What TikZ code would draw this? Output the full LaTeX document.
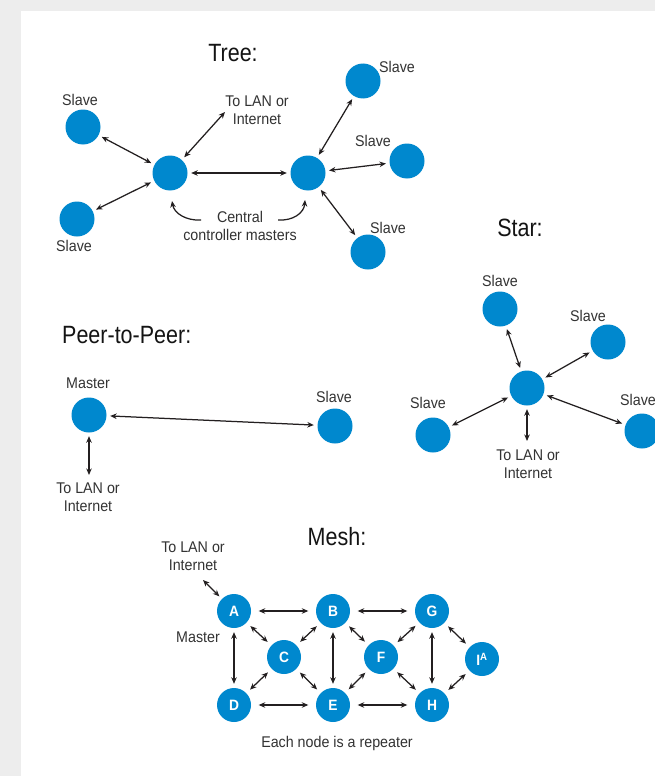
\documentclass[tikz,border=0pt]{standalone}
\usepackage{fontspec}
\setmainfont{Liberation Sans}[FakeStretch=0.86]
\newfontfamily\lblfont{Liberation Sans}[FakeStretch=0.92]
\usetikzlibrary{arrows.meta}
\definecolor{nodeblue}{HTML}{0088CE}
\definecolor{linegray}{HTML}{231F20}
\definecolor{txtgray}{HTML}{333333}
\definecolor{bggray}{HTML}{EDEDED}
\begin{document}
\begin{tikzpicture}[x=1pt,y=-1pt,
  dev/.style={circle,fill=nodeblue,minimum size=35pt,inner sep=0pt},
  mdev/.style={circle,fill=nodeblue,minimum size=34pt,inner sep=0pt,text=white,font=\lblfont\bfseries\fontsize{15}{15}\selectfont},
  lbl/.style={text=txtgray,font=\lblfont\fontsize{15.5}{17.5}\selectfont,align=center,inner sep=0pt},
  ttl/.style={text=black!92,font=\fontsize{25}{28}\selectfont,inner sep=0pt},
  link/.style={draw=linegray,line width=1.25pt,{Stealth[length=6.5pt,width=5.5pt]}-{Stealth[length=6.5pt,width=5.5pt]},shorten >=3.5pt,shorten <=3.5pt},
  mlinkh/.style={link,shorten >=7.5pt,shorten <=7.5pt},
  mlinkd/.style={link,shorten >=5pt,shorten <=5pt},
  mlinkv/.style={link,shorten >=4pt,shorten <=4pt},
  carrow/.style={draw=linegray,line width=1.25pt,-{Stealth[length=6.5pt,width=5.5pt]}},
]
\useasboundingbox (0,0) rectangle (655,776);
\fill[bggray] (0,0) rectangle (655,776);
\fill[white] (21,11) rectangle (660,780);
\clip (0,0) rectangle (655,776);

% ---------- Tree ----------
\node[ttl] (ttree) at (233,53) {Tree:};
\node[dev] (ts1) at (83,127) {};
\node[lbl] (ts1l) at (80,100) {Slave};
\node[dev] (ts2) at (77,219) {};
\node[lbl] (ts2l) at (74,246) {Slave};
\node[dev] (tm1) at (170,173) {};
\node[dev] (tm2) at (308,173) {};
\node[lbl] (tlan) at (257,110) {To LAN or\\Internet};
\coordinate (tlanp) at (225,112);
\node[dev] (ts3) at (363,81) {};
\node[lbl] (ts3l) at (397,67) {Slave};
\node[dev] (ts4) at (407,161) {};
\node[lbl] (ts4l) at (373,141) {Slave};
\node[dev] (ts5) at (368,252) {};
\node[lbl] (ts5l) at (388,228) {Slave};
\node[lbl] (cc) at (240,226) {Central\\controller masters};

\draw[link] (ts1) -- (tm1);
\draw[link] (ts2) -- (tm1);
\draw[link,shorten >=0pt] (tm1) -- (tlanp);
\draw[link] (tm1) -- (tm2);
\draw[link] (tm2) -- (ts3);
\draw[link] (tm2) -- (ts4);
\draw[link] (tm2) -- (ts5);
\coordinate (cl0) at (201,220);
\coordinate (cl1) at (172,201);
\coordinate (cr0) at (278,220);
\coordinate (cr1) at (305,200);
\draw[carrow] (cl0) .. controls (186,221) and (174,213) .. (cl1);
\draw[carrow] (cr0) .. controls (293,221) and (304,213) .. (cr1);

% ---------- Star ----------
\node[ttl] (tstar) at (520,228) {Star:};
\node[dev] (sc) at (527,388) {};
\node[dev] (ss1) at (500,309) {};
\node[lbl] (ss1l) at (500,281) {Slave};
\node[dev] (ss2) at (608,342) {};
\node[lbl] (ss2l) at (588,316) {Slave};
\node[dev] (ss3) at (433,435) {};
\node[lbl] (ss3l) at (428,403) {Slave};
\node[dev] (ss4) at (642,431) {};
\node[lbl] (ss4l) at (638,400) {Slave};
\node[lbl] (slan) at (528,464) {To LAN or\\Internet};
\coordinate (slanp) at (527,441);
\draw[link] (sc) -- (ss1);
\draw[link] (sc) -- (ss2);
\draw[link] (sc) -- (ss3);
\draw[link] (sc) -- (ss4);
\draw[link,shorten >=0pt] (sc) -- (slanp);

% ---------- Peer-to-Peer ----------
\node[ttl,anchor=west] (tp2p) at (62,335) {Peer-to-Peer:};
\node[dev] (pm) at (89,415) {};
\node[lbl] (pml) at (88,383) {Master};
\node[dev] (ps) at (335,426) {};
\node[lbl] (psl) at (334,397) {Slave};
\node[lbl] (plan) at (88,497) {To LAN or\\Internet};
\coordinate (planp) at (89,475);
\draw[link] (pm) -- (ps);
\draw[link,shorten >=0pt] (pm) -- (planp);

% ---------- Mesh ----------
\node[ttl] (tmesh) at (337,537) {Mesh:};
\node[lbl] (mlan) at (193,556) {To LAN or\\Internet};
\coordinate (mlanp) at (203,580);
\node[lbl] (mml) at (198,637) {Master};
\node[mdev] (A) at (234,611) {A};
\node[mdev] (B) at (333,611) {B};
\node[mdev] (G) at (432,611) {G};
\node[mdev] (C) at (284,657) {C};
\node[mdev] (F) at (381,657) {F};
\node[mdev] (I) at (482,659) {I\textsuperscript{A}};
\node[mdev] (D) at (234,705) {D};
\node[mdev] (E) at (333,705) {E};
\node[mdev] (H) at (432,705) {H};
\node[lbl] (mrep) at (337,743) {Each node is a repeater};

\draw[link,shorten <=0pt] (mlanp) -- (A);
\draw[mlinkh] (A) -- (B);
\draw[mlinkh] (B) -- (G);
\draw[mlinkh] (D) -- (E);
\draw[mlinkh] (E) -- (H);
\draw[mlinkv] (A) -- (D);
\draw[mlinkv] (B) -- (E);
\draw[mlinkv] (G) -- (H);
\draw[mlinkd] (A) -- (C);
\draw[mlinkd] (B) -- (C);
\draw[mlinkd] (C) -- (D);
\draw[mlinkd] (C) -- (E);
\draw[mlinkd] (B) -- (F);
\draw[mlinkd] (G) -- (F);
\draw[mlinkd] (F) -- (E);
\draw[mlinkd] (F) -- (H);
\draw[mlinkd] (G) -- (I);
\draw[mlinkd] (H) -- (I);
\end{tikzpicture}
\end{document}
